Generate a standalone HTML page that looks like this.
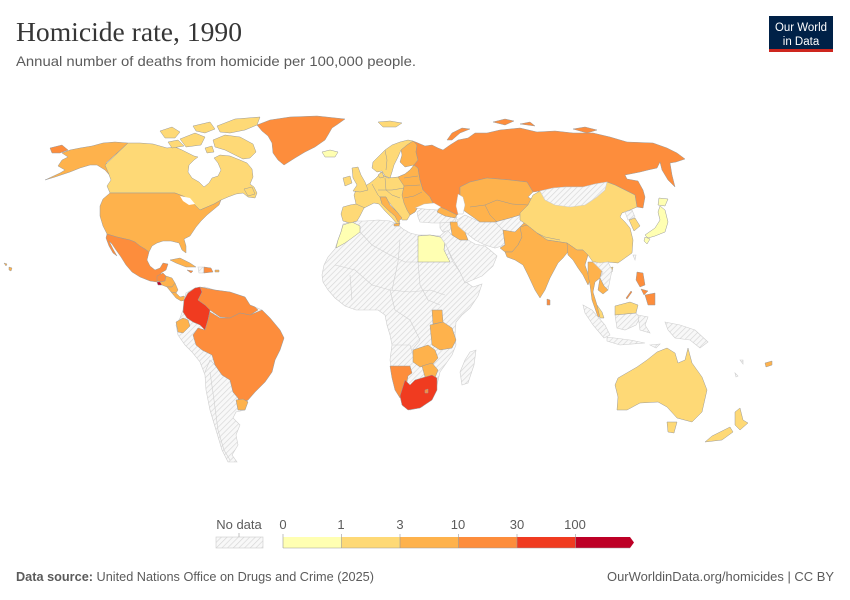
<!DOCTYPE html>
<html><head><meta charset="utf-8"><style>
html,body{margin:0;padding:0;background:#fff;}
svg{display:block;}
.t{font-family:"Liberation Sans",sans-serif;}
.c0{fill:#ffffb2}.c1{fill:#fed976}.c2{fill:#feb24c}.c3{fill:#fd8d3c}.c4{fill:#f03b20}.c5{fill:#bd0026}
.nd{fill:url(#h);stroke:#cfcfcf;stroke-width:0.6}
.m polygon.c0,.m polygon.c1,.m polygon.c2,.m polygon.c3,.m polygon.c4,.m polygon.c5{stroke:#9a9a9a;stroke-width:0.5;stroke-linejoin:round}
</style></head><body>
<svg width="850" height="600" viewBox="0 0 850 600" xmlns="http://www.w3.org/2000/svg">
<defs>
<pattern id="h" width="4" height="4" patternUnits="userSpaceOnUse" patternTransform="rotate(45)">
<rect width="4" height="4" fill="#f8f8f8"/><line x1="0" y1="0" x2="0" y2="4" stroke="#d6d6d6" stroke-width="1.3"/>
</pattern>
</defs>
<rect width="850" height="600" fill="#fff"/>
<text x="16" y="41" font-family="'Liberation Serif',serif" font-size="27" fill="#363636" textLength="226" lengthAdjust="spacingAndGlyphs">Homicide rate, 1990</text>
<text class="t" x="16" y="66" font-size="14" fill="#5b5b5b" textLength="400" lengthAdjust="spacingAndGlyphs">Annual number of deaths from homicide per 100,000 people.</text>
<rect x="769" y="16" width="64" height="36" fill="#002147"/>
<rect x="769" y="49" width="64" height="3" fill="#ce261e"/>
<text class="t" x="801" y="31" font-size="11.5" fill="#fff" text-anchor="middle" textLength="52" lengthAdjust="spacingAndGlyphs">Our World</text>
<text class="t" x="801" y="45" font-size="11.5" fill="#fff" text-anchor="middle">in Data</text>

<g class="m">
<!-- Hawaii / pacific -->
<polygon class="c2" points="4,263 7,264 6,266"/><polygon class="c2" points="9,267 12,268 11,271 9,270"/>
<!-- Chukotka -->
<polygon class="c3" points="50,148 62,145 68,150 60,153 52,153"/>
<!-- Alaska -->
<polygon class="c2" points="128,143 106,163 110,168 115,175 112,178 105,170 97,165 90,165 80,168 70,172 55,177 45,180 60,173 65,170 58,166 62,160 68,157 62,153 70,150 80,148 92,146 103,143 115,142"/>
<!-- Canada -->
<polygon class="c1" points="128,143 140,143 153,144 160,146 167,148 175,147 182,150 188,153 194,156 198,157 194,160 189,165 188,172 192,178 199,182 204,187 209,183 212,178 218,176 221,170 218,163 214,158 220,155 230,156 240,160 247,163 252,169 253,177 250,184 254,187 257,193 255,198 248,197 243,193 236,194 228,197 221,200 214,204 207,207 200,210 195,205 190,200 183,196 175,193 110,193 107,186 111,180 108,172 105,165"/>
<polygon class="c1" points="213,140 225,135 240,137 253,144 256,152 250,158 243,159 235,155 225,150 215,147"/>
<polygon class="c1" points="217,126 235,119 260,117 257,125 245,130 230,133 220,132"/>
<polygon class="c1" points="160,131 172,127 180,132 175,138 165,138"/>
<polygon class="c1" points="180,139 195,133 205,137 201,145 186,147"/>
<polygon class="c1" points="193,126 210,122 215,129 205,133 196,131"/>
<polygon class="c1" points="168,142 178,140 184,146 172,148"/>
<polygon class="c1" points="205,148 212,146 214,152 207,153"/>
<polygon class="c1" points="244,189 252,187 255,194 248,196"/>
<!-- USA -->
<polygon class="c2" points="110,193 175,193 183,196 190,200 195,205 200,210 207,207 214,204 221,200 219,205 213,210 207,215 201,221 196,227 190,236 184,239 186,246 186,253 182,250 179,243 171,241 163,241 157,243 152,246 149,252 145,249 140,246 135,242 130,240 117,237 107,234 103,226 100,216 100,206 103,199"/>
<polygon fill="#fff" points="180,196 190,198 195,204 189,205 183,201"/>
<!-- Mexico -->
<polygon class="c3" points="107,234 117,237 130,240 135,242 140,246 145,249 149,252 147,260 150,266 155,270 160,268 163,263 168,264 166,270 161,273 159,278 157,282 150,281 140,277 132,272 126,265 121,257 116,250 112,244 109,241 113,249 117,256 113,253 109,246 106,238"/>
<!-- Central America -->
<polygon class="c3" points="157,276 163,273 166,276 165,281 160,282 157,281"/>
<polygon class="c5" points="157,282 160,282 162,285 158,285"/>
<polygon class="c2" points="162,285 160,282 165,281 166,276 172,278 175,283 172,287 167,287"/>
<polygon class="c2" points="167,287 172,287 175,283 178,290 176,293 171,292"/>
<polygon class="c2" points="171,292 176,293 180,297 184,296 186,300 181,301 176,298"/>
<!-- Caribbean -->
<polygon class="c2" points="170,260 180,258 190,263 196,267 186,267 176,263"/>
<polygon class="c3" points="187,270 193,271 191,273"/>
<polygon class="nd" points="198,267 204,267 204,273 199,273"/>
<polygon class="c3" points="204,267 211,268 213,272 204,273"/>
<polygon class="c2" points="215,270 219,270 219,272 215,272"/>
<!-- Greenland -->
<polygon class="c3" points="257,125 270,120 290,117 317,116 345,119 338,124 332,128 328,135 325,140 315,147 305,152 295,158 284,165 278,160 273,153 272,143 268,136 262,131"/>
<!-- Iceland -->
<polygon class="c0" points="322,152 330,150 338,152 335,157 325,157"/>
<!-- South America base -->
<polygon class="nd" points="186,293 195,288 205,287 215,290 230,292 245,297 250,305 255,307 262,310 270,318 280,330 284,338 280,350 275,360 272,372 265,382 255,392 248,400 245,410 236,412 233,418 240,425 236,435 238,445 232,455 237,462 228,462 222,450 216,430 210,410 206,390 205,375 200,362 192,352 185,345 178,335 176,325 180,318 183,310 184,300"/>
<polyline fill="none" stroke="#d0d0d0" stroke-width="0.6" points="205,372 210,360 215,365 222,375 230,380 233,392 238,398"/>
<polyline fill="none" stroke="#d0d0d0" stroke-width="0.6" points="210,372 214,400 218,430 224,450 230,460"/>
<polygon class="c4" points="184,300 188,293 195,288 200,287 202,292 198,300 205,305 210,310 208,320 205,330 200,325 193,322 187,318 183,312"/>
<polygon class="c2" points="176,322 183,318 188,320 190,326 183,333 178,332"/>
<polygon class="c3" points="200,287 215,290 230,292 245,297 250,305 255,307 258,310 250,315 240,313 230,318 220,317 210,310 205,305 198,300 202,292"/>
<polygon class="c3" points="208,320 210,312 220,318 230,318 240,313 250,315 262,310 270,318 280,330 284,338 280,350 275,360 272,372 265,382 255,392 248,400 240,404 238,398 233,392 230,380 222,375 215,365 212,355 202,350 196,345 193,335 198,328 205,330"/>
<polygon class="c2" points="236,400 243,399 248,402 245,410 238,410"/>
<!-- Africa base -->
<polygon class="nd" points="343,224 352,221 365,221 378,220 390,221 397,224 403,229 410,233 418,235 430,235 440,236 446,240 448,250 453,262 460,272 466,282 473,287 482,284 478,296 470,308 462,315 456,322 455,335 456,345 452,355 445,365 440,372 437,385 432,398 422,407 410,410 403,406 400,396 395,385 392,372 390,360 392,345 390,335 387,325 385,315 378,310 368,310 356,310 345,306 335,298 328,290 323,282 322,275 324,265 328,257 335,249 338,240 341,232"/>
<polyline fill="none" stroke="#d0d0d0" stroke-width="0.6" points="360,232 372,245 390,255 405,262 418,262"/>
<polyline fill="none" stroke="#d0d0d0" stroke-width="0.6" points="335,265 355,270 372,285 390,290 410,292 430,290 445,295"/>
<polyline fill="none" stroke="#d0d0d0" stroke-width="0.6" points="390,290 395,310 410,320 420,340 412,350"/>
<polyline fill="none" stroke="#d0d0d0" stroke-width="0.6" points="400,240 398,262 392,290"/>
<polyline fill="none" stroke="#d0d0d0" stroke-width="0.6" points="418,262 420,285 428,300 440,305"/>
<polyline fill="none" stroke="#d0d0d0" stroke-width="0.6" points="392,345 410,345 413,355"/>
<polyline fill="none" stroke="#d0d0d0" stroke-width="0.6" points="350,275 352,300"/>
<polygon class="c0" points="343,225 352,222 360,226 360,232 352,238 345,243 336,248 338,240 341,232"/>
<polygon class="c0" points="418,236 430,235 440,237 445,240 444,250 450,262 418,262"/>
<polygon class="c2" points="432,310 442,310 443,322 433,324"/>
<polygon class="c2" points="430,325 443,322 452,328 456,340 452,348 440,350 432,345"/>
<polygon class="c2" points="413,350 428,345 435,350 438,358 432,365 420,367 413,362"/>
<polygon class="c2" points="422,366 432,363 438,370 435,378 425,377"/>
<polygon class="c3" points="390,366 410,366 412,373 408,376 405,393 400,398 395,390 392,378"/>
<polygon class="c4" points="400,396 405,380 410,385 415,380 425,377 432,375 437,378 437,390 432,400 420,408 408,410 402,405"/>
<polygon class="c3" points="425,390 428,389 428,393 425,393"/>
<polygon class="nd" points="470,352 476,350 474,365 468,383 462,385 460,372 465,360"/>
<!-- Middle East -->
<polygon class="nd" points="440,236 447,230 452,235 460,240 468,240 475,244 485,246 490,250 497,256 493,266 482,276 470,281 465,283 460,272 452,258 446,245"/>
<polygon class="nd" points="417,212 423,208 437,210 447,213 457,217 455,222 445,223 432,223 420,222 418,217"/>
<polygon class="nd" points="440,223 452,222 450,230 443,232 440,228"/>
<polygon class="c2" points="450,222 458,222 465,232 468,240 460,240 452,235"/>
<polygon class="nd" points="457,220 465,215 480,222 497,222 503,230 505,245 495,248 485,245 475,240 465,232 458,226"/>
<polygon class="nd" points="495,222 510,218 520,215 525,222 515,232 505,240 503,230"/>
<polygon class="c2" points="503,230 515,232 525,222 530,227 522,237 518,245 512,252 505,252 500,248 505,245"/>
<!-- Europe -->
<polygon class="c1" points="341,214 343,207 350,205 356,204 354,195 356,190 365,186 370,183 375,179 378,176 381,172 384,176 388,178 398,177 405,174 410,170 414,165 418,168 420,180 423,190 430,197 433,203 425,206 418,207 415,212 410,215 407,220 402,220 398,213 392,206 388,201 386,197 380,197 382,204 388,210 395,216 400,222 397,224 392,218 385,211 379,204 374,203 368,206 364,208 360,216 357,221 350,223 343,221"/>
<polyline fill="none" stroke="#9a9a9a" stroke-width="0.5" points="356,204 365,208"/>
<polyline fill="none" stroke="#9a9a9a" stroke-width="0.5" points="372,184 378,195 380,197"/>
<polyline fill="none" stroke="#9a9a9a" stroke-width="0.5" points="385,178 386,190 392,195 400,198"/>
<polyline fill="none" stroke="#9a9a9a" stroke-width="0.5" points="378,190 392,190 404,188"/>
<polygon class="c2" points="398,177 405,174 410,170 414,165 418,168 420,180 423,190 430,197 433,203 425,206 418,207 415,212 410,215 407,210 404,203 402,195 404,186"/>
<polyline fill="none" stroke="#9a9a9a" stroke-width="0.5" points="404,186 420,185"/>
<polyline fill="none" stroke="#9a9a9a" stroke-width="0.5" points="404,178 418,176"/>
<polyline fill="none" stroke="#9a9a9a" stroke-width="0.5" points="404,198 414,196 422,192"/>
<polygon class="c2" points="380,197 386,197 390,205 397,212 402,218 398,222 395,216 388,210 382,204"/>
<polygon class="c2" points="394,224 400,223 399,226 394,226"/>
<polygon class="c1" points="372,168 373,162 378,157 385,150 392,145 400,142 408,140 413,141 407,145 401,150 398,157 394,165 392,172 390,178 385,176 382,171 377,172"/>
<polyline fill="none" stroke="#9a9a9a" stroke-width="0.5" points="385,150 387,160 386,170"/>
<polygon class="c2" points="401,150 407,145 413,141 417,145 416,152 418,160 414,165 405,167 400,162 402,155"/>
<polygon class="c1" points="378,175 382,172 384,177 380,178"/>
<polygon class="c1" points="352,168 358,167 361,175 365,182 368,190 360,192 353,191 357,185 353,178"/>
<polygon class="c1" points="343,178 350,176 352,183 345,186"/>
<polygon class="c1" points="378,122 390,121 402,123 396,127 383,127"/>
<!-- Russia -->
<polygon class="c3" points="413,141 417,145 416,152 418,160 414,165 418,168 420,180 423,190 430,197 433,203 440,207 447,210 457,215 463,210 460,200 460,187 470,182 487,178 510,180 527,182 533,192 540,191 553,188 565,187 583,187 595,184 607,182 615,185 625,190 635,195 637,207 643,208 645,197 643,190 638,181 627,179 625,175 640,172 648,170 657,168 660,162 662,170 668,180 675,187 672,175 670,163 676,162 685,159 677,153 667,148 653,143 627,142 610,137 593,133 573,133 555,131 537,132 520,128 500,130 487,133 475,133 468,138 458,140 450,145 443,150 438,148 432,145 425,146 418,143"/>
<polygon class="c3" points="447,140 452,133 462,128 470,129 460,133 452,140"/>
<polygon class="c3" points="493,122 505,119 514,121 505,125"/>
<polygon class="c3" points="573,129 585,127 597,130 587,133"/>
<polygon class="c3" points="520,124 530,122 535,126"/>
<!-- Central Asia -->
<polygon class="c2" points="460,187 470,182 487,178 510,180 527,182 533,192 528,197 533,200 530,207 528,212 520,215 510,218 495,222 480,222 470,215 463,210 460,200"/>
<polyline fill="none" stroke="#9a9a9a" stroke-width="0.5" points="470,207 485,205 497,200 512,204 528,205"/>
<polyline fill="none" stroke="#9a9a9a" stroke-width="0.5" points="485,205 490,215 497,222"/>
<polygon class="c2" points="440,207 447,210 457,215 455,218 445,216 437,212"/>
<!-- seas -->
<polygon fill="#fff" stroke="#bbb" stroke-width="0.4" points="458,194 463,197 465,205 463,214 458,214 456,206"/>
<polygon fill="#fff" stroke="#bbb" stroke-width="0.4" points="415,208 424,204 434,203 441,207 437,210 424,209"/>
<!-- China -->
<polygon class="c1" points="520,213 528,205 533,195 540,191 553,188 565,187 583,187 595,184 607,182 615,185 625,190 635,195 637,207 630,210 622,213 620,217 625,222 630,228 633,240 632,253 625,258 618,263 608,262 600,263 593,262 588,255 583,250 577,250 567,243 547,240 537,233 527,225 520,220"/>
<polygon class="nd" points="540,191 553,188 565,187 583,187 595,184 607,182 605,190 597,197 585,205 570,207 555,205 545,200"/>
<polygon class="nd" points="625,212 632,210 635,217 628,220"/>
<polygon class="c1" points="629,220 635,218 640,226 634,231"/>
<polygon class="nd" points="633,255 636,255 635,260"/>
<polygon class="c1" points="608,268 613,267 612,272 608,271"/>
<!-- Japan -->
<polygon class="c0" points="660,206 665,210 668,222 665,232 655,236 648,238 645,235 655,228 660,220 658,212"/>
<polygon class="c0" points="659,198 668,199 665,206 658,205"/>
<polygon class="c0" points="645,237 650,239 647,244 644,241"/>
<!-- India -->
<polygon class="c2" points="520,227 527,225 537,233 547,240 567,243 577,250 567,253 563,258 558,263 550,278 545,290 540,298 535,290 528,275 523,265 515,260 507,257 505,252 512,252 518,245 522,237"/>
<polyline fill="none" stroke="#9a9a9a" stroke-width="0.5" points="537,233 545,237 560,240"/>
<polygon class="c3" points="547,299 550,300 550,305 547,305"/>
<!-- SE Asia -->
<polygon class="c2" points="567,243 577,250 583,250 588,255 585,265 590,280 588,285 583,275 578,268 573,260 568,255"/>
<polygon class="c2" points="588,262 596,262 602,270 600,278 595,282 593,292 597,305 602,315 598,317 592,300 590,285 588,275"/>
<polygon class="nd" points="593,262 600,263 608,262 612,270 610,280 608,290 604,286 600,278 603,272"/>
<polygon class="c2" points="600,278 604,286 608,290 603,294 598,290"/>
<polygon class="c1" points="597,305 602,312 604,318 600,318"/>
<!-- Philippines -->
<polygon class="c3" points="637,272 643,273 645,285 640,287 636,280"/>
<polygon class="c3" points="645,295 655,293 655,305 648,305"/>
<polygon class="c3" points="641,289 648,291 644,295"/>
<polygon class="c3" points="631,291 632,292 627,299 626,298"/>
<!-- Indonesia -->
<polygon class="nd" points="583,305 592,310 605,325 610,335 604,338 593,325 585,313"/>
<polygon class="nd" points="607,337 630,340 645,343 620,345 607,341"/>
<polygon class="nd" points="615,315 636,313 640,318 636,325 625,330 617,328"/>
<polygon class="c1" points="615,306 630,302 638,305 636,313 615,315"/>
<polygon class="nd" points="638,315 648,317 645,325 650,333 640,330"/>
<polygon class="nd" points="665,322 680,325 695,330 708,342 700,348 690,340 675,338 668,330"/>
<polygon class="nd" points="650,345 660,344 656,348"/>
<!-- Australia -->
<polygon class="c1" points="618,378 637,367 647,360 657,352 667,348 675,353 678,363 685,360 688,348 692,363 702,377 707,390 702,412 692,422 677,418 667,407 658,402 640,403 627,410 617,410 618,397 615,385"/>
<polygon class="c1" points="667,422 677,422 674,433 668,432"/>
<!-- New Zealand -->
<polygon class="c1" points="735,412 740,408 743,420 748,423 740,430 735,425"/>
<polygon class="c1" points="730,427 733,432 722,440 705,442 712,436"/>
<polygon class="c2" points="765,363 772,361 772,365 766,367"/>
<polygon class="nd" points="740,360 743,360 743,364"/>
<polygon class="nd" points="735,373 738,376 736,377"/>
</g>

<!-- Legend -->
<g class="t" font-size="13" fill="#5b5b5b" text-anchor="middle">
<text x="239" y="529">No data</text>
<text x="283" y="529">0</text>
<text x="341" y="529">1</text>
<text x="400" y="529">3</text>
<text x="458" y="529">10</text>
<text x="517" y="529">30</text>
<text x="575" y="529">100</text>
</g>
<rect x="216" y="537" width="47" height="11" fill="url(#h)" stroke="#ccc" stroke-width="0.6"/>
<line x1="239" y1="533" x2="239" y2="537" stroke="#999" stroke-width="0.6"/>
<rect x="283" y="537" width="58.5" height="11" fill="#ffffb2"/>
<rect x="341.5" y="537" width="58.5" height="11" fill="#fed976"/>
<rect x="400" y="537" width="58.5" height="11" fill="#feb24c"/>
<rect x="458.5" y="537" width="58.5" height="11" fill="#fd8d3c"/>
<rect x="517" y="537" width="58.5" height="11" fill="#f03b20"/>
<polygon points="575.5,537 630,537 634,542.5 630,548 575.5,548" fill="#bd0026"/>
<g stroke="#999" stroke-width="0.6">
<line x1="283" y1="534" x2="283" y2="548"/>
<line x1="341.5" y1="534" x2="341.5" y2="548"/>
<line x1="400" y1="534" x2="400" y2="548"/>
<line x1="458.5" y1="534" x2="458.5" y2="548"/>
<line x1="517" y1="534" x2="517" y2="548"/>
<line x1="575.5" y1="534" x2="575.5" y2="548"/>
<line x1="283" y1="548" x2="630" y2="548"/>
</g>

<!-- Footer -->
<text class="t" x="16" y="581" font-size="13" fill="#5b5b5b" textLength="358" lengthAdjust="spacingAndGlyphs"><tspan font-weight="bold">Data source:</tspan> United Nations Office on Drugs and Crime (2025)</text>
<text class="t" x="834" y="581" font-size="13" fill="#5b5b5b" text-anchor="end" textLength="227" lengthAdjust="spacingAndGlyphs">OurWorldinData.org/homicides | CC BY</text>
</svg>
</body></html>
